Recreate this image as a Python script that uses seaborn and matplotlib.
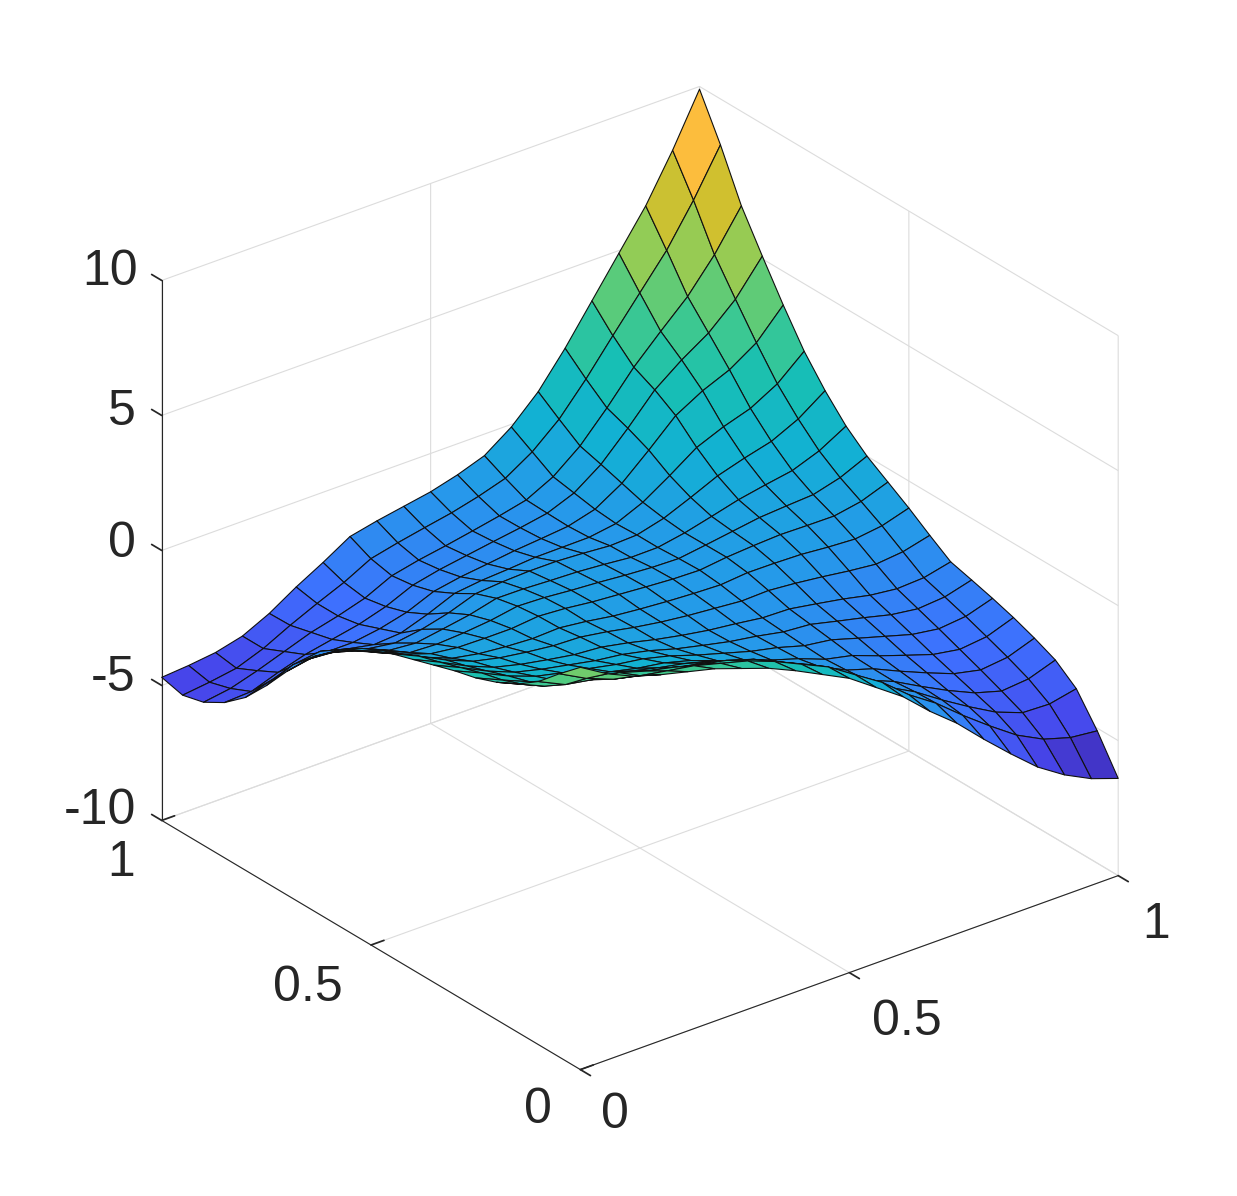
# 3D surface, grid values
# note: the grid here is 21x21, the reference mesh is about twice as fine
import numpy as np
import matplotlib
matplotlib.use("Agg")
import matplotlib.pyplot as plt
from matplotlib.transforms import Affine2D
import seaborn as sns

x_ticks = [0, 0.5, 1]
y_ticks = [0, 0.5, 1]
z_ticks = [-10, -5, 0, 5, 10]
x_labels = ["0", "0.5", "1"]
y_labels = ["0", "0.5", "1"]
z_labels = ["-10", "-5", "0", "5", "10"]

# parula anchors
parula = ["#3e26a8", "#4746eb", "#3e70fe", "#2797eb", "#12b1d3", "#17bfb4",
          "#48cb86", "#91cc57", "#d0c02f", "#fdbd3d", "#f9fb15"]

x_vals = [0.00, 0.05, 0.10, 0.15, 0.20, 0.25, 0.30, 0.35, 0.40, 0.45, 0.50,
          0.55, 0.60, 0.65, 0.70, 0.75, 0.80, 0.85, 0.90, 0.95, 1.00]
y_vals = list(x_vals)

# one row per y value
z_rows = [
    [4.90, 4.30, 3.85, 3.55, 3.30, 3.05, 2.70, 2.35, 1.90, 1.40, 0.90, 0.20, -0.50, -1.40, -2.20, -3.15, -4.05, -4.90, -5.55, -6.05, -6.40],
    [4.20, 3.67, 3.28, 3.05, 2.87, 2.70, 2.43, 2.16, 1.78, 1.32, 0.86, 0.21, -0.43, -1.25, -1.92, -2.73, -3.48, -4.18, -4.69, -4.99, -5.10],
    [3.45, 2.98, 2.80, 2.70, 2.40, 2.18, 1.92, 1.72, 1.40, 0.94, 0.49, -0.11, -0.70, -1.43, -1.96, -2.62, -3.23, -3.79, -4.17, -4.21, -4.00],
    [2.90, 2.46, 2.28, 2.00, 1.76, 1.60, 1.36, 1.18, 0.88, 0.44, 0.02, -0.51, -1.02, -1.63, -2.04, -2.58, -3.09, -3.54, -3.83, -3.74, -3.40],
    [2.50, 2.06, 1.76, 1.50, 1.34, 1.12, 0.88, 0.68, 0.40, 0.00, -0.38, -0.82, -1.23, -1.72, -2.03, -2.48, -2.90, -3.29, -3.51, -3.40, -3.05],
    [2.20, 1.76, 1.34, 1.02, 0.81, 0.63, 0.40, 0.24, -0.03, -0.40, -0.73, -1.09, -1.40, -1.78, -2.00, -2.37, -2.71, -3.04, -3.21, -3.10, -2.75],
    [2.00, 1.56, 1.09, 0.72, 0.49, 0.29, 0.08, -0.07, -0.32, -0.65, -0.94, -1.23, -1.45, -1.74, -1.88, -2.18, -2.47, -2.76, -2.91, -2.81, -2.50],
    [1.75, 1.30, 0.81, 0.41, 0.16, -0.04, -0.24, -0.37, -0.59, -0.88, -1.11, -1.33, -1.49, -1.69, -1.77, -2.01, -2.24, -2.49, -2.63, -2.55, -2.28],
    [1.50, 1.04, 0.54, 0.13, -0.12, -0.31, -0.48, -0.56, -0.76, -1.00, -1.20, -1.37, -1.49, -1.63, -1.66, -1.83, -2.01, -2.23, -2.35, -2.30, -2.07],
    [1.25, 0.80, 0.30, -0.11, -0.34, -0.49, -0.61, -0.65, -0.81, -1.01, -1.17, -1.29, -1.38, -1.47, -1.44, -1.53, -1.65, -1.79, -1.90, -1.80, -1.55],
    [0.85, 0.42, -0.06, -0.46, -0.65, -0.75, -0.81, -0.77, -0.89, -1.05, -1.15, -1.23, -1.29, -1.33, -1.24, -1.25, -1.28, -1.37, -1.43, -1.30, -1.00],
    [0.45, 0.03, -0.41, -0.75, -0.88, -0.90, -0.90, -0.80, -0.87, -0.99, -1.07, -1.15, -1.22, -1.25, -1.13, -1.06, -1.01, -1.03, -1.04, -0.86, -0.50],
    [-0.10, -0.38, -0.75, -1.17, -1.22, -1.16, -1.06, -0.89, -0.93, -1.02, -1.09, -1.18, -1.25, -1.28, -1.14, -0.99, -0.84, -0.77, -0.71, -0.44, 0.00],
    [-0.80, -0.88, -1.12, -1.55, -1.64, -1.48, -1.31, -1.06, -1.07, -1.12, -1.16, -1.24, -1.34, -1.33, -1.15, -0.90, -0.64, -0.45, -0.28, 0.09, 0.65],
    [-1.70, -1.52, -1.62, -1.95, -2.10, -1.95, -1.70, -1.35, -1.27, -1.23, -1.23, -1.29, -1.37, -1.33, -1.07, -0.66, -0.22, 0.08, 0.34, 0.81, 1.50],
    [-2.70, -2.28, -2.15, -2.42, -2.62, -2.55, -2.21, -1.80, -1.68, -1.62, -1.54, -1.53, -1.52, -1.37, -0.94, -0.31, 0.37, 0.78, 1.10, 1.65, 2.50],
    [-3.60, -3.30, -3.05, -3.00, -3.00, -2.85, -2.60, -2.19, -2.01, -1.89, -1.76, -1.67, -1.57, -1.30, -0.70, 0.17, 1.09, 1.65, 2.07, 2.71, 3.75],
    [-4.25, -4.20, -3.85, -3.55, -3.35, -3.15, -2.85, -2.42, -2.20, -2.04, -1.88, -1.73, -1.55, -1.16, -0.46, 0.52, 1.58, 2.33, 2.97, 3.86, 5.10],
    [-4.70, -4.55, -4.25, -3.90, -3.55, -3.30, -3.00, -2.53, -2.31, -2.14, -1.95, -1.75, -1.52, -1.02, -0.24, 0.81, 1.96, 2.93, 3.86, 5.05, 6.50],
    [-4.90, -4.78, -4.62, -4.25, -3.75, -3.30, -2.88, -2.36, -2.13, -1.93, -1.74, -1.49, -1.18, -0.56, 0.29, 1.42, 2.67, 3.89, 5.11, 6.61, 8.30],
    [-4.70, -4.62, -4.50, -4.25, -3.77, -3.15, -2.60, -2.00, -1.78, -1.60, -1.42, -1.15, -0.80, -0.10, 0.85, 2.10, 3.50, 4.90, 6.30, 8.00, 9.90],
]

sns.set_theme(style="white")
plt.rcParams["font.family"] = ["Liberation Sans", "DejaVu Sans"]

X, Y = np.meshgrid(x_vals, y_vals)
Z = np.array(z_rows)
cmap = sns.blend_palette(parula, n_colors=256, as_cmap=True)

fig = plt.figure(figsize=(12.37, 11.96), dpi=100)
side = 1107
ax = fig.add_axes([(625 - side / 2) / 1237, (1196 - 593 - side / 2) / 1196, side / 1237, side / 1196],
                  projection="3d", proj_type="ortho")
ax.set_box_aspect((1, 1, 0.894))
ax.view_init(elev=27.6, azim=-127.9)
ax.patch.set_alpha(0)

ax.plot_surface(X, Y, Z, cmap=cmap, vmin=Z.min(), vmax=Z.max(), rstride=1, cstride=1,
                edgecolor="#101010", linewidth=0.8, shade=False, antialiased=True)

ax.set_xlim(0, 1)
ax.set_ylim(0, 1)
ax.set_zlim(-10, 10)
ax.set_xticks(x_ticks, x_labels)
ax.set_yticks(y_ticks, y_labels)
ax.set_zticks(z_ticks, z_labels)

for axis in (ax.xaxis, ax.yaxis, ax.zaxis):
    axis.set_pane_color((1, 1, 1, 0))
    axis.pane.set_edgecolor((1, 1, 1, 0))
    axis.line.set_color("#262626")
    axis.line.set_linewidth(0.8)
    axis._axinfo["grid"].update(color="#dcdcdc", linewidth=0.8)
    axis._axinfo["tick"].update(inward_factor=0.0, outward_factor=0.3)

# ticks point away from the box like in the reference
ax.xaxis._axinfo["tick"].update(inward_factor=0.3, outward_factor=0.0)
ax.zaxis._get_tickdir = lambda pos: 1

ax.tick_params(axis="both", labelsize=36, labelcolor="#262626", color="#262626", width=0.8, pad=18)
ax.tick_params(axis="z", pad=14)


# axis3d resets label transforms on every draw, so keep the offset in set_transform
def nudge_label(label, dx, dy):
    set_orig = label.set_transform
    offset = Affine2D().translate(dx, -dy)
    label.set_transform = lambda t: set_orig(t + offset)


# pixels, right and down
x_nudge = [(8, -27), (31, -23), (12, -23)]
y_nudge = [(-9, -29), (-29, -26), (-7, -26)]
z_nudge = [(-11, -30), (2, -28), (11, -27), (11, -24), (-1, -29)]
for axis, nudge in ((ax.xaxis, x_nudge), (ax.yaxis, y_nudge), (ax.zaxis, z_nudge)):
    for tick, (dx, dy) in zip(axis.get_major_ticks(), nudge):
        nudge_label(tick.label1, dx, dy)

fig.savefig("out.png", dpi=100)
